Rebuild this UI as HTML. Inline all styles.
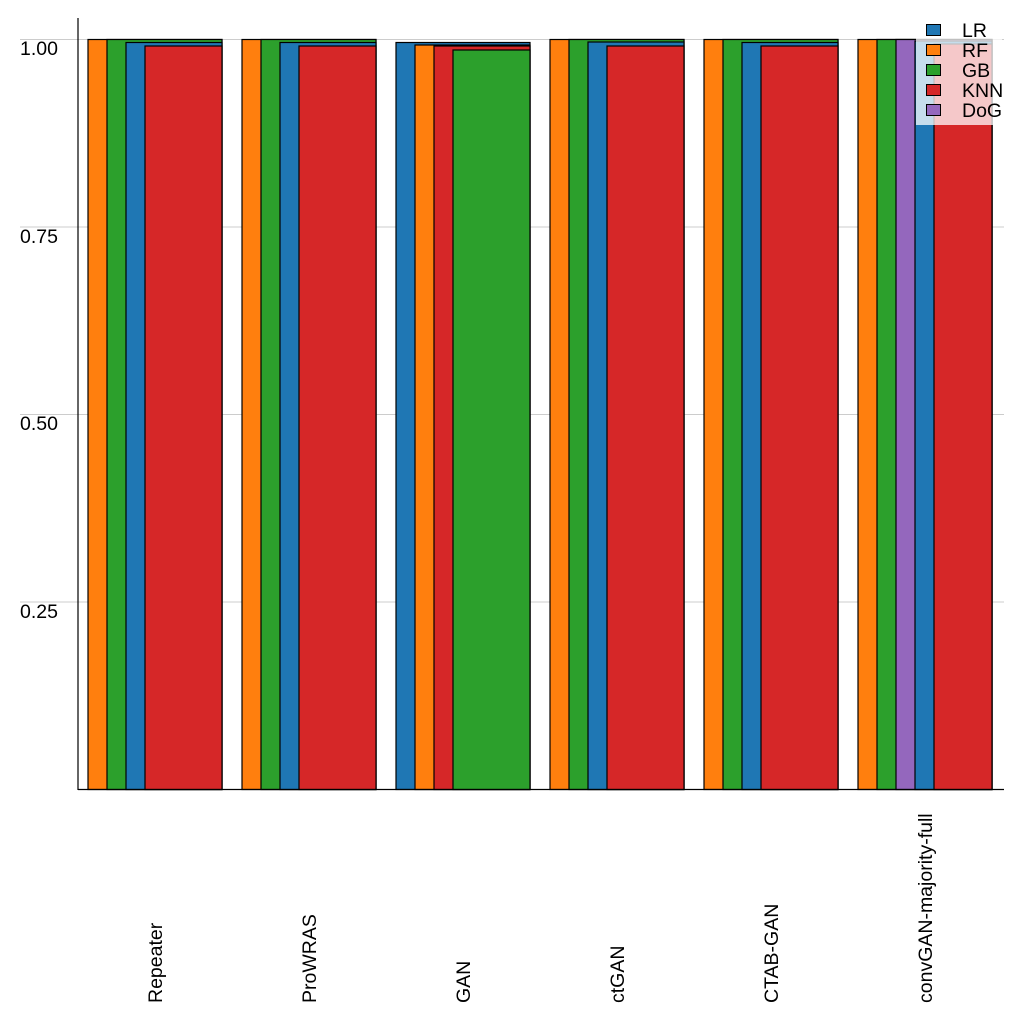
<!DOCTYPE html>
<html><head><meta charset="utf-8"><style>body{margin:0;background:#fff}svg{display:block}text{font-family:"Liberation Sans",sans-serif;font-size:19.5px;fill:#000}</style></head><body>
<svg width="1024" height="1024" xmlns="http://www.w3.org/2000/svg">
<g stroke="#cccccc" stroke-width="1">
<line x1="20" x2="1004" y1="39.5" y2="39.5"/>
<line x1="20" x2="1004" y1="227" y2="227"/>
<line x1="20" x2="1004" y1="414.5" y2="414.5"/>
<line x1="20" x2="1004" y1="602" y2="602"/>
</g>
<text x="20" y="55">1.00</text>
<text x="20" y="243">0.75</text>
<text x="20" y="430">0.50</text>
<text x="20" y="618">0.25</text>
<g stroke="#000" stroke-width="1.2">
<rect x="88" y="39.5" width="134" height="750" fill="#ff7f0e"/>
<rect x="107" y="39.5" width="115" height="750" fill="#2ca02c"/>
<rect x="126" y="42.5" width="96" height="747" fill="#1f77b4"/>
<rect x="145" y="46" width="77" height="743.5" fill="#d62728"/>
<rect x="242" y="39.5" width="134" height="750" fill="#ff7f0e"/>
<rect x="261" y="39.5" width="115" height="750" fill="#2ca02c"/>
<rect x="280" y="42.5" width="96" height="747" fill="#1f77b4"/>
<rect x="299" y="46" width="77" height="743.5" fill="#d62728"/>
<rect x="396" y="42.5" width="134" height="747" fill="#1f77b4"/>
<rect x="415" y="45" width="115" height="744.5" fill="#ff7f0e"/>
<rect x="434" y="46" width="96" height="743.5" fill="#d62728"/>
<rect x="453" y="50" width="77" height="739.5" fill="#2ca02c"/>
<rect x="550" y="39.5" width="134" height="750" fill="#ff7f0e"/>
<rect x="569" y="39.5" width="115" height="750" fill="#2ca02c"/>
<rect x="588" y="42" width="96" height="747.5" fill="#1f77b4"/>
<rect x="607" y="46" width="77" height="743.5" fill="#d62728"/>
<rect x="704" y="39.5" width="134" height="750" fill="#ff7f0e"/>
<rect x="723" y="39.5" width="115" height="750" fill="#2ca02c"/>
<rect x="742" y="42.5" width="96" height="747" fill="#1f77b4"/>
<rect x="761" y="46" width="77" height="743.5" fill="#d62728"/>
<rect x="858" y="39.5" width="134" height="750" fill="#ff7f0e"/>
<rect x="877" y="39.5" width="115" height="750" fill="#2ca02c"/>
<rect x="896" y="39.5" width="96" height="750" fill="#9467bd"/>
<rect x="915" y="41" width="77" height="748.5" fill="#1f77b4"/>
<rect x="934" y="44" width="58" height="745.5" fill="#d62728"/>
</g>
<line x1="78" y1="18" x2="78" y2="790" stroke="#000" stroke-width="1.2"/>
<line x1="78" y1="789.5" x2="1004" y2="789.5" stroke="#000" stroke-width="1.2"/>
<rect x="916" y="17" width="86" height="108" fill="#fff" fill-opacity="0.75"/>
<g stroke="#000" stroke-width="1">
<rect x="926.5" y="24.5" width="14" height="11" fill="#1f77b4"/>
<rect x="926.5" y="44.5" width="14" height="11" fill="#ff7f0e"/>
<rect x="926.5" y="64.5" width="14" height="11" fill="#2ca02c"/>
<rect x="926.5" y="84.5" width="14" height="11" fill="#d62728"/>
<rect x="926.5" y="104.5" width="14" height="11" fill="#9467bd"/>
</g>
<text x="962" y="37">LR</text>
<text x="962" y="57">RF</text>
<text x="962" y="77">GB</text>
<text x="962" y="97">KNN</text>
<text x="962" y="117">DoG</text>
<g>
<text transform="translate(162,1003) rotate(-90)">Repeater</text>
<text transform="translate(316,1003) rotate(-90)">ProWRAS</text>
<text transform="translate(470,1003) rotate(-90)">GAN</text>
<text transform="translate(624,1003) rotate(-90)">ctGAN</text>
<text transform="translate(778,1003) rotate(-90)">CTAB-GAN</text>
<text transform="translate(932,1003) rotate(-90)">convGAN-majority-full</text>
</g>
</svg>
</body></html>
